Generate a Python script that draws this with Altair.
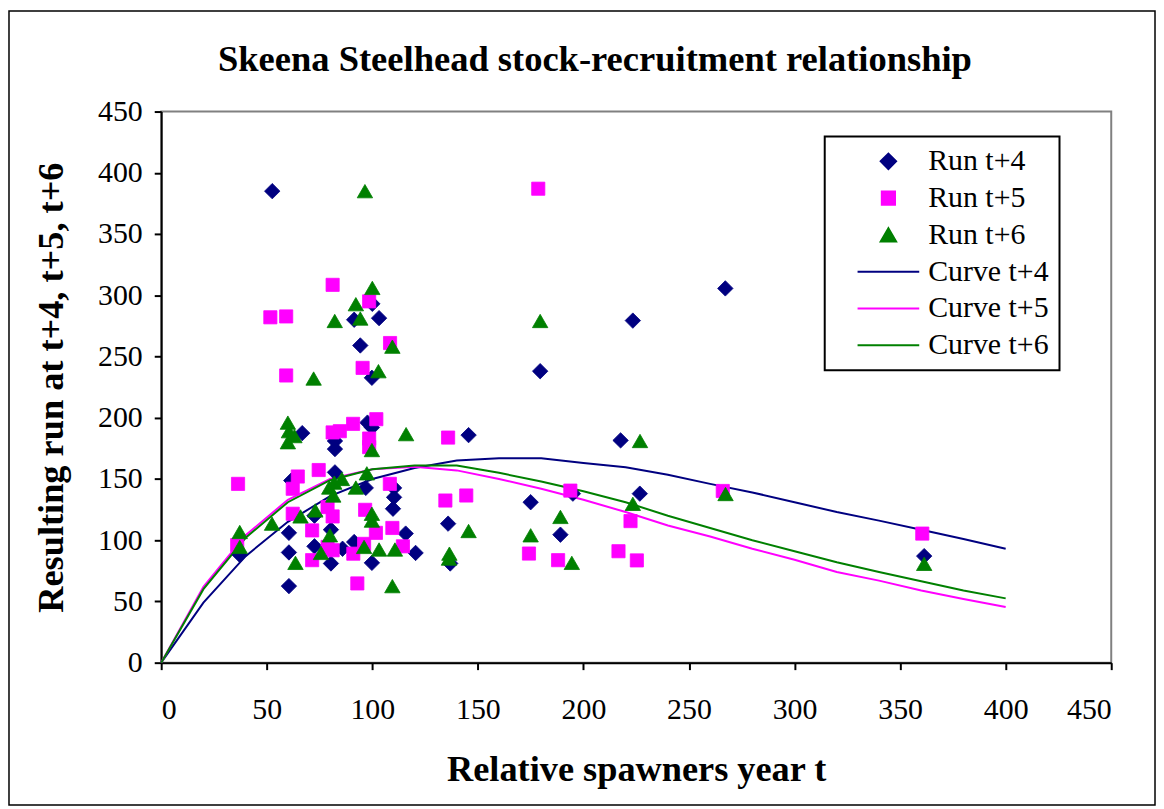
import altair as alt
import pandas as pd

# ---------------- data ----------------
run4_x = [52.6, 66.8, 60.5, 60.5, 60.5, 61.6, 72.6, 72.6, 80.4, 80.4, 82.3, 82.3, 82.3, 85.9,
          91.4, 91.4, 94.3, 97.7, 96.9, 100.0, 99.8, 99.8, 99.8, 103.2, 110.3, 110.3, 109.8,
          115.8, 120.5, 135.9, 136.9, 145.6, 175.0, 179.5, 189.1, 195.0, 217.6, 223.4, 226.7,
          267.2, 361.4, 37.2]
run4_y = [385, 187.4, 106, 90, 62.5, 148.7, 120, 95, 108.6, 81, 181, 174.4, 155.4, 93,
          98.5, 280, 259, 196, 142.7, 293, 232.6, 192, 81.5, 281.3, 142.7, 135, 125.7,
          105.4, 89.6, 113.5, 81, 185.8, 131, 238, 104.5, 138, 181.5, 279.3, 138,
          305.6, 87, 88]

run5_x = [36.4, 36.0, 51.7, 59.2, 59.2, 62.3, 62.3, 64.7, 71.5, 71.5, 74.6, 78.8, 81.2, 81.2,
          81.2, 78.8, 81.2, 84.6, 90.9, 91.0, 92.9, 95.4, 96.6, 96.1, 98.5, 98.5, 98.5, 101.9,
          101.7, 108.4, 108.3, 109.5, 114.5, 134.6, 135.9, 144.5, 174.2, 178.6, 188.0, 193.8,
          216.6, 222.3, 225.3, 266.0, 360.5]
run5_y = [146, 96, 282, 282.7, 234.5, 142, 121.6, 152, 108, 83.7, 157.3, 127, 308.5, 188,
          119.4, 94.5, 91.8, 189, 195, 89, 64.7, 240.7, 124.8, 97, 295, 183, 176, 198.8,
          106, 261, 146, 110, 95, 132.4, 183.8, 136.5, 89.1, 387, 83.7, 140.5,
          91, 115.6, 83.5, 140.2, 105.4]

run6_x = [37.2, 37.2, 52.5, 60.0, 60.5, 63.1, 60.0, 63.6, 66.0, 72.2, 73.0, 75.7, 79.6, 82.0,
          81.5, 79.9, 82.2, 85.6, 92.2, 92.2, 94.3, 96.5, 96.1, 97.4, 100.0, 99.8, 99.8, 99.8,
          102.9, 103.2, 109.5, 109.5, 110.7, 116.0, 136.5, 136.3, 145.6, 175.0, 179.5, 189.1,
          194.5, 223.4, 226.8, 267.3, 361.4]
run6_y = [106.7, 94.5, 113.5, 196, 189, 185, 180, 81.5, 119.4, 232, 124.3, 89.6, 143, 147,
          136.5, 104, 279, 150, 143, 292.7, 281, 385, 94.5, 154.6, 306, 173.6, 121.6, 116,
          238, 92.4, 258, 62.5, 92.4, 186.6, 89, 85, 107.5, 104, 279, 119,
          81.5, 129.7, 181, 137.7, 80.7]

curve_x = [0, 20, 40, 60, 80, 100, 120, 140, 160, 180, 200, 220, 240, 260, 280, 300,
           320, 340, 360, 380, 400]
curve4_y = [0, 49, 87, 115, 136, 150, 159, 165, 167, 167, 163, 159.5, 153.5, 146, 139, 131,
            123, 116, 108.5, 101, 93]
curve5_y = [0, 62, 104, 133, 150, 158, 160, 157, 150, 142, 133, 123, 112, 103, 93, 84,
            74, 67, 59, 52, 45.5]
curve6_y = [0, 60, 102, 131, 149, 158, 161, 161, 155, 148, 140, 131, 120, 110, 100, 91,
            82, 74, 66.5, 59, 52.5]

series_names = ["Run t+4", "Run t+5", "Run t+6", "Curve t+4", "Curve t+5", "Curve t+6"]
series_colors = ["#000080", "#FF00FF", "#008000", "#000080", "#FF00FF", "#008000"]
series_shapes = ["diamond", "square", "triangle-up", "stroke", "stroke", "stroke"]
series_sizes = [240, 175, 240, 3844, 3844, 3844]

x_ticks = [0, 50, 100, 150, 200, 250, 300, 350, 400, 450]
y_ticks = [0, 50, 100, 150, 200, 250, 300, 350, 400, 450]

title_text = ["Skeena Steelhead stock-recruitment relationship"]

# ---------------- tables ----------------
points_df = pd.concat([
    pd.DataFrame({"x": run4_x, "y": run4_y, "series": "Run t+4"}),
    pd.DataFrame({"x": run5_x, "y": run5_y, "series": "Run t+5"}),
    pd.DataFrame({"x": run6_x, "y": run6_y, "series": "Run t+6"}),
], ignore_index=True)

curves_df = pd.concat([
    pd.DataFrame({"x": curve_x, "y": curve4_y, "series": "Curve t+4"}),
    pd.DataFrame({"x": curve_x, "y": curve5_y, "series": "Curve t+5"}),
    pd.DataFrame({"x": curve_x, "y": curve6_y, "series": "Curve t+6"}),
], ignore_index=True)

FONT = "Liberation Serif"

x_enc = alt.X("x:Q", scale=alt.Scale(domain=[0, 450], nice=False, zero=True),
              axis=alt.Axis(values=x_ticks, title="Relative spawners year t",
                            labelPadding=25, titlePadding=27))
y_enc = alt.Y("y:Q", scale=alt.Scale(domain=[0, 450], nice=False, zero=True),
              axis=alt.Axis(values=y_ticks, title="Resulting run at t+4, t+5, t+6",
                            labelPadding=12, titlePadding=27))

color_scale = alt.Scale(domain=series_names, range=series_colors)

legend = alt.Legend(
    title=None, orient="none", legendX=667, legendY=25,
    labelFont=FONT, labelFontSize=30, labelColor="black", labelLimit=400,
    labelOffset=8, strokeColor="black", fillColor="white",
    padding=10, rowPadding=7, clipHeight=30, symbolOffset=22,
    symbolStrokeWidth=2, symbolOpacity=1,
)

lines = alt.Chart(curves_df).mark_line(strokeWidth=2).encode(
    x=x_enc, y=y_enc,
    color=alt.Color("series:N", scale=color_scale, legend=legend),
    order=alt.Order("x:Q"),
)

points = alt.Chart(points_df).mark_point(filled=True, opacity=1, strokeWidth=0.8).encode(
    x=x_enc, y=y_enc,
    color=alt.Color("series:N", scale=color_scale, legend=legend),
    stroke=alt.Stroke("series:N", scale=color_scale, legend=legend),
    shape=alt.Shape("series:N", scale=alt.Scale(domain=series_names, range=series_shapes),
                    legend=legend),
    size=alt.Size("series:N",
                  scale=alt.Scale(type="ordinal", domain=series_names, range=series_sizes),
                  legend=legend),
)

frame = alt.Chart(pd.DataFrame({"f": [0]})).mark_rect(
    fill=None, fillOpacity=0, stroke="black", strokeWidth=1.5
).encode(
    x=alt.value(-153), x2=alt.value(999), y=alt.value(-101), y2=alt.value(697)
)

title = alt.Chart(pd.DataFrame({"t": title_text})).mark_text(
    font=FONT, fontSize=36.7, fontWeight="bold", color="black",
    align="center", baseline="alphabetic",
).encode(
    text="t:N", x=alt.value(436), y=alt.value(-41)
)

chart = alt.layer(frame, title, lines, points).properties(
    width=955, height=554,
    padding=0,
    background="white",
).configure_view(
    stroke="#808080", strokeWidth=2
).configure_axis(
    grid=False, domainColor="black", domainWidth=2, tickColor="black", tickWidth=2,
    tickSize=7, labelFont=FONT, labelFontSize=30, labelColor="black",
    titleFont=FONT, titleFontSize=36.5, titleFontWeight="bold", titleColor="black",
    labelOverlap=False,
).configure_legend(
    strokeWidth=2
)

chart.save("out.html", embed_options={"renderer": "svg", "actions": False})
